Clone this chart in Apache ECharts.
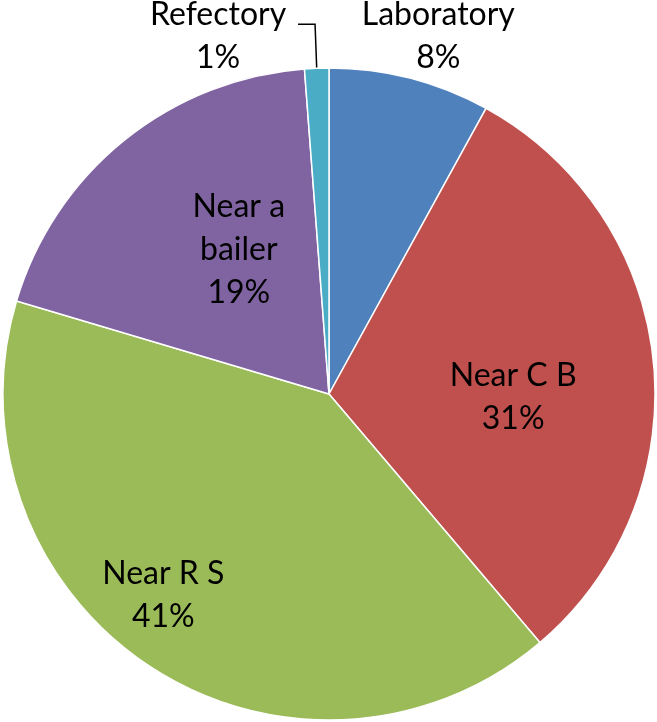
<!DOCTYPE html>
<html><head><meta charset="utf-8">
<script src="https://cdn.jsdelivr.net/npm/echarts@6/dist/echarts.min.js"></script>
<style>html,body{margin:0;padding:0;background:#fff}#c{width:657px;height:722px}</style>
</head><body><div id="c"></div>
<script>
// Slice shares (percent); labels show rounded values
const categories = ['Laboratory', 'Near C B', 'Near R S', 'Near a bailer', 'Refectory'];
const shares = [8.0, 30.8, 40.8, 19.2, 1.2];
const colors = ['#4F81BD', '#C0504D', '#9BBB59', '#8064A2', '#4BACC6'];
const labelFirstLines = ['Laboratory', 'Near C B', 'Near R S', 'Near a\nbailer', 'Refectory'];

// label nudges relative to the default inside label anchor
const nudges = [[68, -197], [19, 20], [-75, 62], [14, -15], null];

const FONT = 'Lato, "Open Sans", sans-serif';
const FS = 32, LH = 43;

const data = categories.map((name, i) => {
  const item = { name: name, value: shares[i], itemStyle: { color: colors[i] } };
  if (i === 4) {
    item.label = {
      position: 'outside',
      formatter: '{r|' + labelFirstLines[i] + '}\n{r|{d}%}',
      padding: [24, 0, 0, 0],
      rich: { r: { width: 150, align: 'center', fontSize: FS, lineHeight: LH, fontFamily: FONT, color: '#000' } }
    };
    item.labelLine = { show: true, length: 44, length2: 17, lineStyle: { color: '#000', width: 1.5 } };
  } else {
    item.label = { position: 'inside', formatter: labelFirstLines[i] + '\n{d}%' };
    item.labelLine = { show: false };
  }
  return item;
});

const chart = echarts.init(document.getElementById('c'), null, { renderer: 'canvas' });
chart.setOption({
  animation: false,
  backgroundColor: '#fff',
  series: [{
    type: 'pie',
    center: [329, 394],
    radius: 326,
    startAngle: 90,
    clockwise: true,
    percentPrecision: 0,
    avoidLabelOverlap: false,
    itemStyle: { borderColor: '#fff', borderWidth: 1.5 },
    label: {
      show: true,
      color: '#000',
      fontFamily: FONT,
      fontSize: FS,
      lineHeight: LH,
      align: 'center',
      textBorderWidth: 0,
      distanceToLabelLine: 5
    },
    emphasis: { disabled: true },
    labelLayout: function (p) {
      const n = nudges[p.dataIndex];
      if (!n) return {};
      const r = p.labelRect;
      return { x: r.x + r.width / 2 + n[0], y: r.y + r.height / 2 + n[1], align: 'center', verticalAlign: 'middle' };
    },
    data: data
  }]
});
</script></body></html>
